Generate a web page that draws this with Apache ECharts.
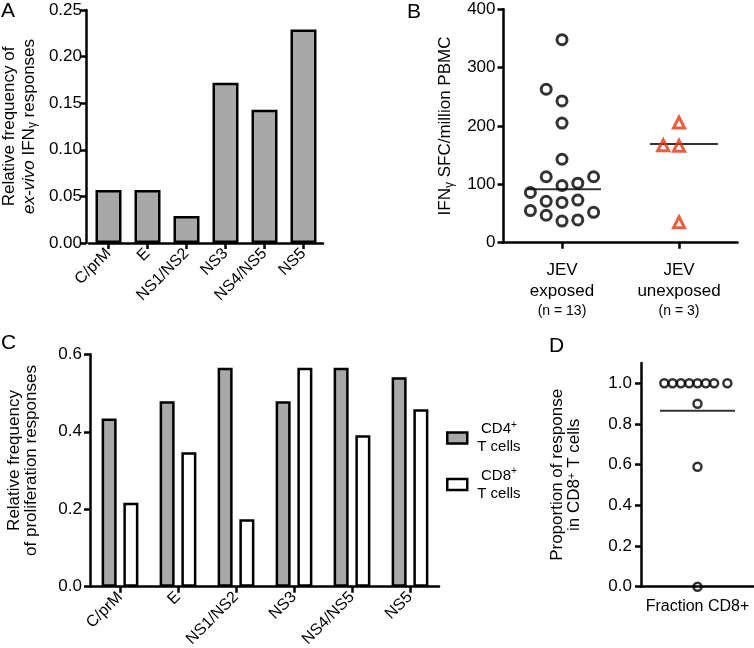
<!DOCTYPE html>
<html>
<head>
<meta charset="utf-8">
<script src="https://cdn.jsdelivr.net/npm/echarts@6/dist/echarts.min.js"></script>
<style>html,body{margin:0;padding:0;background:#fff}#c{width:754px;height:648px}</style>
</head>
<body>
<div id="c"></div>
<script>
// ---------- Panel A ----------
const aCategories = ['C/prM', 'E', 'NS1/NS2', 'NS3', 'NS4/NS5', 'NS5'];
const aValues = [0.057, 0.057, 0.029, 0.172, 0.143, 0.229];
// ---------- Panel B ----------
const bGroupNames = ['exposed', 'unexposed'];
const bGroupN = [13, 3];
const bExposed = [348, 263, 243, 205, 143, 113, 113, 98, 102, 86, 71, 69, 73, 55, 47, 52, 37, 39];
const bExposedColumn = [0, -1, 0, 0, 0, -1, 2, 0, 1, -2, -1, 0, 1, -2, -1, 2, 0, 1];
const bUnexposed = [206, 167, 166, 35];
const bUnexposedColumn = [0, -1, 0, 0];
const bMedians = [91.5, 169];
// ---------- Panel C ----------
const cCategories = ['C/prM', 'E', 'NS1/NS2', 'NS3', 'NS4/NS5', 'NS5'];
const cCD4 = [0.434, 0.479, 0.565, 0.479, 0.565, 0.541];
const cCD8 = [0.217, 0.347, 0.174, 0.565, 0.391, 0.458];
// ---------- Panel D ----------
const dValues = [1, 1, 1, 1, 1, 1, 1, 1, 0.9, 0.59, 0];
const dColumn = [-4, -3, -2, -1, 0, 1, 2, 3.6, 0, 0, 0];
const dMean = [0.865];

const FONT = '"Liberation Sans", Arial, Helvetica, sans-serif';
const BLACK = '#000';
const GRAY = '#a8a8a8';
const RED = '#e8340f';
const LW = 2.5;

const axisLine = { show: true, lineStyle: { color: BLACK, width: LW } };
const axisTick = { show: true, length: 6, lineStyle: { color: BLACK, width: LW } };
const baseLabel = { color: BLACK, fontFamily: FONT, fontSize: 17 };

const chart = echarts.init(document.getElementById('c'), null, { renderer: 'canvas' });

const option = {
  animation: false,
  backgroundColor: '#fff',
  textStyle: { fontFamily: FONT, color: BLACK },
  grid: [
    { left: 89, top: 10, width: 234, height: 233, outerBoundsMode: 'none' },
    { left: 503.5, top: 9.3, width: 234, height: 233.4, outerBoundsMode: 'none' },
    { left: 91, top: 354.3, width: 348, height: 232.4, outerBoundsMode: 'none' },
    { left: 641, top: 363, width: 113, height: 223.7, outerBoundsMode: 'none' }
  ],
  xAxis: [
    {
      gridIndex: 0, type: 'category', data: aCategories,
      axisLine, axisTick: Object.assign({ alignWithLabel: true }, axisTick),
      axisLabel: Object.assign({}, baseLabel, { fontSize: 16, rotate: 45, margin: 8, interval: 0 })
    },
    {
      gridIndex: 1, type: 'category', data: bGroupNames,
      axisLine, axisTick: Object.assign({ alignWithLabel: true }, axisTick),
      axisLabel: {
        color: BLACK, margin: 17, interval: 0,
        formatter: (v, i) => '{a|JEV}\n{a|' + bGroupNames[i] + '}\n{b|(n = ' + bGroupN[i] + ')}',
        rich: {
          a: { fontFamily: FONT, fontSize: 17, lineHeight: 21, color: BLACK },
          b: { fontFamily: FONT, fontSize: 14, lineHeight: 19, color: BLACK }
        }
      }
    },
    {
      gridIndex: 2, type: 'category', data: cCategories,
      axisLine, axisTick: Object.assign({ alignWithLabel: true }, axisTick),
      axisLabel: Object.assign({}, baseLabel, { fontSize: 16, rotate: 45, margin: 8, interval: 0 })
    },
    {
      gridIndex: 3, type: 'category', data: ['Fraction CD8+'],
      axisLine, axisTick: { show: false },
      axisLabel: Object.assign({}, baseLabel, { fontSize: 16, margin: 12, hideOverlap: false })
    }
  ],
  yAxis: [
    {
      gridIndex: 0, type: 'value', min: 0, max: 0.25, interval: 0.05, offset: 3,
      axisLine, axisTick, splitLine: { show: false },
      axisLabel: Object.assign({}, baseLabel, { margin: 4, formatter: v => v.toFixed(2) }),
      name: 'Relative frequency of\n{i|ex-vivo} IFN{g|γ} responses',
      nameLocation: 'middle', nameRotate: 90, nameGap: 47,
      nameTextStyle: {
        fontFamily: FONT, fontSize: 17, lineHeight: 20, color: BLACK,
        rich: {
          i: { fontFamily: FONT, fontStyle: 'italic', fontSize: 17, lineHeight: 20, color: BLACK },
          g: { fontFamily: FONT, fontSize: 12, lineHeight: 13, verticalAlign: 'bottom', color: BLACK }
        }
      }
    },
    {
      gridIndex: 1, type: 'value', min: 0, max: 400, interval: 100,
      axisLine, axisTick, splitLine: { show: false },
      axisLabel: Object.assign({}, baseLabel, { margin: 8 }),
      name: 'IFN{g|γ} SFC/million PBMC',
      nameLocation: 'middle', nameRotate: 90, nameGap: 48,
      nameTextStyle: {
        fontFamily: FONT, fontSize: 17, lineHeight: 20, color: BLACK,
        rich: {
          g: { fontFamily: FONT, fontSize: 12, lineHeight: 13, verticalAlign: 'bottom', color: BLACK }
        }
      }
    },
    {
      gridIndex: 2, type: 'value', min: 0, max: 0.6, interval: 0.2, offset: 1,
      axisLine, axisTick, splitLine: { show: false },
      axisLabel: Object.assign({}, baseLabel, { margin: 8, formatter: v => v.toFixed(1) }),
      name: 'Relative frequency\nof proliferation responses',
      nameLocation: 'middle', nameRotate: 90, nameGap: 50,
      nameTextStyle: { fontFamily: FONT, fontSize: 17, lineHeight: 17, color: BLACK, padding: [0, 0, 0, 20] }
    },
    {
      gridIndex: 3, type: 'value', min: 0, max: 1.1,
      axisLine, splitLine: { show: false },
      axisTick: Object.assign({ customValues: [0, 0.2, 0.4, 0.6, 0.8, 1.0] }, axisTick),
      axisLabel: Object.assign({}, baseLabel, { margin: 9, customValues: [0, 0.2, 0.4, 0.6, 0.8, 1.0], formatter: v => v.toFixed(1) }),
      name: 'Proportion of response\nin CD8{s|+} T cells',
      nameLocation: 'middle', nameRotate: 90, nameGap: 58,
      nameTextStyle: {
        fontFamily: FONT, fontSize: 17, lineHeight: 17, color: BLACK,
        rich: { s: { fontFamily: FONT, fontSize: 11, lineHeight: 17, verticalAlign: 'top', color: BLACK } }
      }
    }
  ],
  legend: {
    orient: 'vertical', left: 446, top: 420, padding: 0, itemWidth: 20, itemHeight: 11, itemGap: 12,
    icon: 'rect', selectedMode: false,
    data: ['CD4', 'CD8'],
    itemStyle: { borderColor: BLACK, borderWidth: LW },
    formatter: name => '{t|' + name + '}{s|+}\n{t|T cells}',
    textStyle: {
      padding: [0, 0, 0, 5],
      rich: {
        t: { fontFamily: FONT, fontSize: 15, lineHeight: 18, color: BLACK, align: 'center' },
        s: { fontFamily: FONT, fontSize: 10, lineHeight: 18, verticalAlign: 'top', color: BLACK, align: 'center' }
      }
    }
  },
  series: [
    {
      type: 'bar', xAxisIndex: 0, yAxisIndex: 0, data: aValues, barWidth: 26,
      itemStyle: { color: GRAY, borderColor: BLACK, borderWidth: LW }
    },
    {
      type: 'scatter', xAxisIndex: 1, yAxisIndex: 1, z: 2,
      data: bMedians.map((v, i) => ({ value: [i, v], symbolSize: [i === 0 ? 74 : 68, 2], symbolOffset: [i === 0 ? 2 : 5, 0] })),
      symbol: 'rect', itemStyle: { color: BLACK }, silent: true
    },
    {
      type: 'scatter', xAxisIndex: 1, yAxisIndex: 1, z: 3,
      data: bExposed.map((v, i) => ({ value: [0, v], symbolOffset: [bExposedColumn[i] * 15.8, 0] })),
      symbol: 'circle', symbolSize: 10,
      itemStyle: { color: 'rgba(0,0,0,0)', borderColor: BLACK, borderWidth: 3 }
    },
    {
      type: 'scatter', xAxisIndex: 1, yAxisIndex: 1, z: 3,
      data: bUnexposed.map((v, i) => ({ value: [1, v], symbolOffset: [bUnexposedColumn[i] * 15.8, 0] })),
      symbol: 'triangle', symbolSize: 11,
      itemStyle: { color: 'rgba(0,0,0,0)', borderColor: RED, borderWidth: 3 }
    },
    {
      name: 'CD4', type: 'bar', xAxisIndex: 2, yAxisIndex: 2, data: cCD4, barWidth: 15, barGap: '45%',
      itemStyle: { color: GRAY, borderColor: BLACK, borderWidth: LW }
    },
    {
      name: 'CD8', type: 'bar', xAxisIndex: 2, yAxisIndex: 2, data: cCD8, barWidth: 15, barGap: '45%',
      itemStyle: { color: '#fff', borderColor: BLACK, borderWidth: LW }
    },
    {
      type: 'scatter', xAxisIndex: 3, yAxisIndex: 3, z: 2,
      data: dMean.map(v => ({ value: [0, v], symbolSize: [75, 2], symbolOffset: [0, 0] })),
      symbol: 'rect', itemStyle: { color: BLACK }, silent: true
    },
    {
      type: 'scatter', xAxisIndex: 3, yAxisIndex: 3, z: 3,
      data: dValues.map((v, i) => ({ value: [0, v], symbolOffset: [dColumn[i] * 8.3, 0] })),
      symbol: 'circle', symbolSize: 8,
      itemStyle: { color: 'rgba(0,0,0,0)', borderColor: BLACK, borderWidth: 2.5 }
    }
  ],
  graphic: [
    { type: 'text', left: 1, top: 1, style: { text: 'A', font: '21px ' + FONT, fill: BLACK } },
    { type: 'text', left: 407, top: 2, style: { text: 'B', font: '21px ' + FONT, fill: BLACK } },
    { type: 'text', left: 1, top: 333, style: { text: 'C', font: '21px ' + FONT, fill: BLACK } },
    { type: 'text', left: 549, top: 336, style: { text: 'D', font: '21px ' + FONT, fill: BLACK } }
  ]
};
chart.setOption(option);
</script>
</body>
</html>
